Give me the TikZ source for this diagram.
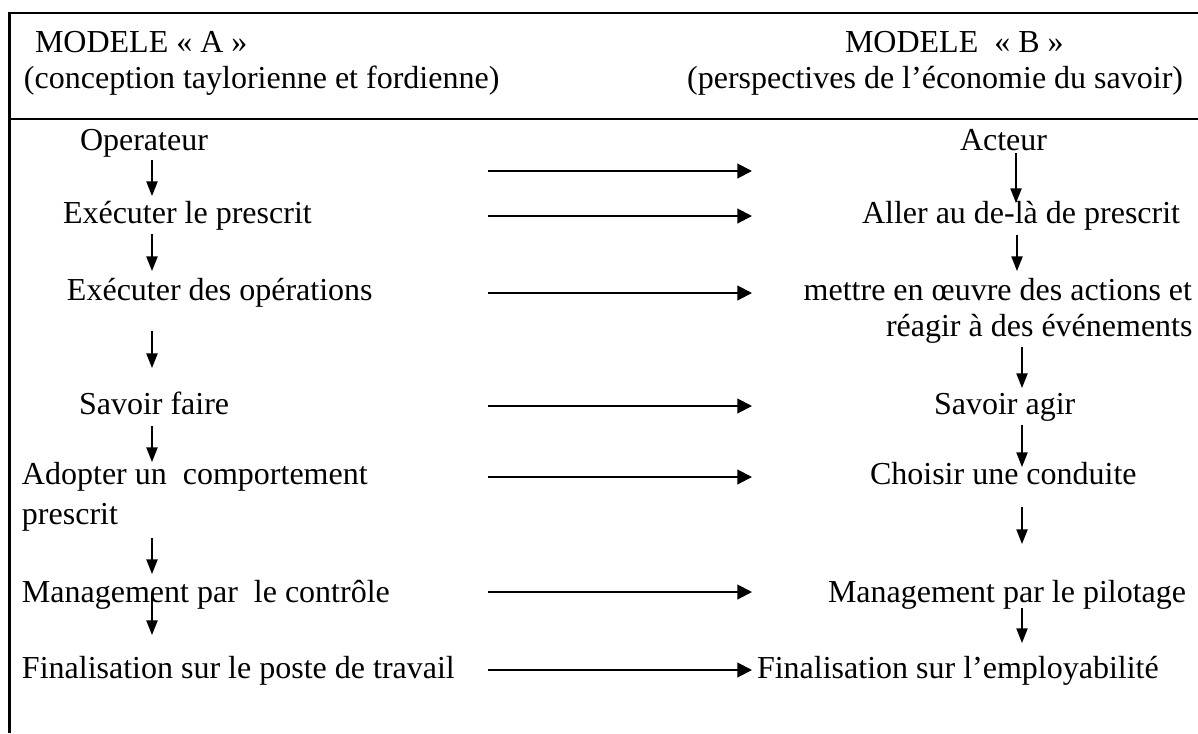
\documentclass[tikz,border=0pt]{standalone}
\usepackage{fontspec}
\setmainfont{Liberation Serif}
\usetikzlibrary{arrows.meta}
\begin{document}
\begin{tikzpicture}[x=0.375pt,y=-0.375pt,
  txt/.style={inner sep=0pt,outer sep=0pt,anchor=base west,font=\fontsize{12}{14}\selectfont},
  txtr/.style={txt,anchor=base east},
  frameline/.style={line width=0.8pt},
  harrow/.style={line width=0.75pt,-{Triangle[length=5.5pt,width=5.5pt]}},
  varrow/.style={line width=0.6pt,-{Triangle[length=5.5pt,width=4.2pt]}}]
\useasboundingbox (0,0) rectangle (1198,733);
% frame
\draw[frameline] (1198,13) -- (9.5,13) -- (9.5,733);
\draw[frameline] (9.5,119) -- (1198,119);
% headers
\node[txt] (ha1) at (35,52) {MODELE « A »};
\node[txt] (ha2) at (24,88) {(conception taylorienne et fordienne)};
\node[txt] (hb1) at (845,52) {MODELE ~« B »};
\node[txtr] (hb2) at (1183,88) {(perspectives de l’économie du savoir)};
% left column
\node[txt] (l1) at (80,150) {Operateur};
\node[txt] (l2) at (63,223) {Exécuter le prescrit};
\node[txt] (l3) at (67,300) {Exécuter des opérations};
\node[txt] (l4) at (79,414) {Savoir faire};
\node[txt] (l5) at (22,484) {Adopter un~~comportement};
\node[txt] (l5b) at (22,524) {prescrit};
\node[txt] (l6) at (22,602) {Management par~~le contrôle};
\node[txt] (l7) at (22,678) {Finalisation sur le poste de travail};
% right column
\node[txt] (r1) at (960,150) {Acteur};
\node[txt] (r2) at (862,223) {Aller au de-là de prescrit};
\node[txtr] (r3) at (1192,300) {mettre en œuvre des actions et};
\node[txt] (r3b) at (886,336) {réagir à des événements};
\node[txt] (r4) at (934,414) {Savoir agir};
\node[txt] (r5) at (870,484) {Choisir une conduite};
\node[txt] (r6) at (828,602) {Management par le pilotage};
\node[txt] (r7) at (757,678) {Finalisation sur l’employabilité};
% coordinates for arrows (left vertical)
\coordinate (a1s) at (152,160); \coordinate (a1e) at (152,196);
\coordinate (a2s) at (152,234); \coordinate (a2e) at (152,271);
\coordinate (a3s) at (152,331); \coordinate (a3e) at (152,368);
\coordinate (a4s) at (152,426); \coordinate (a4e) at (152,462);
\coordinate (a5s) at (152,538); \coordinate (a5e) at (152,574);
\coordinate (a6s) at (152,594); \coordinate (a6e) at (152,635);
% right vertical
\coordinate (b1s) at (1016,153); \coordinate (b1e) at (1016,203);
\coordinate (b2s) at (1017,235); \coordinate (b2e) at (1017,271);
\coordinate (b3s) at (1022,347); \coordinate (b3e) at (1022,388);
\coordinate (b4s) at (1022,425); \coordinate (b4e) at (1022,467);
\coordinate (b5s) at (1022,507); \coordinate (b5e) at (1022,544);
\coordinate (b6s) at (1022,608); \coordinate (b6e) at (1022,643);
% horizontal
\coordinate (h1s) at (488,171); \coordinate (h1e) at (752,171);
\coordinate (h2s) at (488,216); \coordinate (h2e) at (752,216);
\coordinate (h3s) at (488,293); \coordinate (h3e) at (752,293);
\coordinate (h4s) at (488,406); \coordinate (h4e) at (752,406);
\coordinate (h5s) at (488,477); \coordinate (h5e) at (752,477);
\coordinate (h6s) at (488,592); \coordinate (h6e) at (752,592);
\coordinate (h7s) at (488,670); \coordinate (h7e) at (752,670);
\foreach \i in {1,...,6} {
  \draw[varrow] (a\i s) -- (a\i e);
  \draw[varrow] (b\i s) -- (b\i e);
}
\foreach \i in {1,...,7} {
  \draw[harrow] (h\i s) -- (h\i e);
}
\end{tikzpicture}
\end{document}
